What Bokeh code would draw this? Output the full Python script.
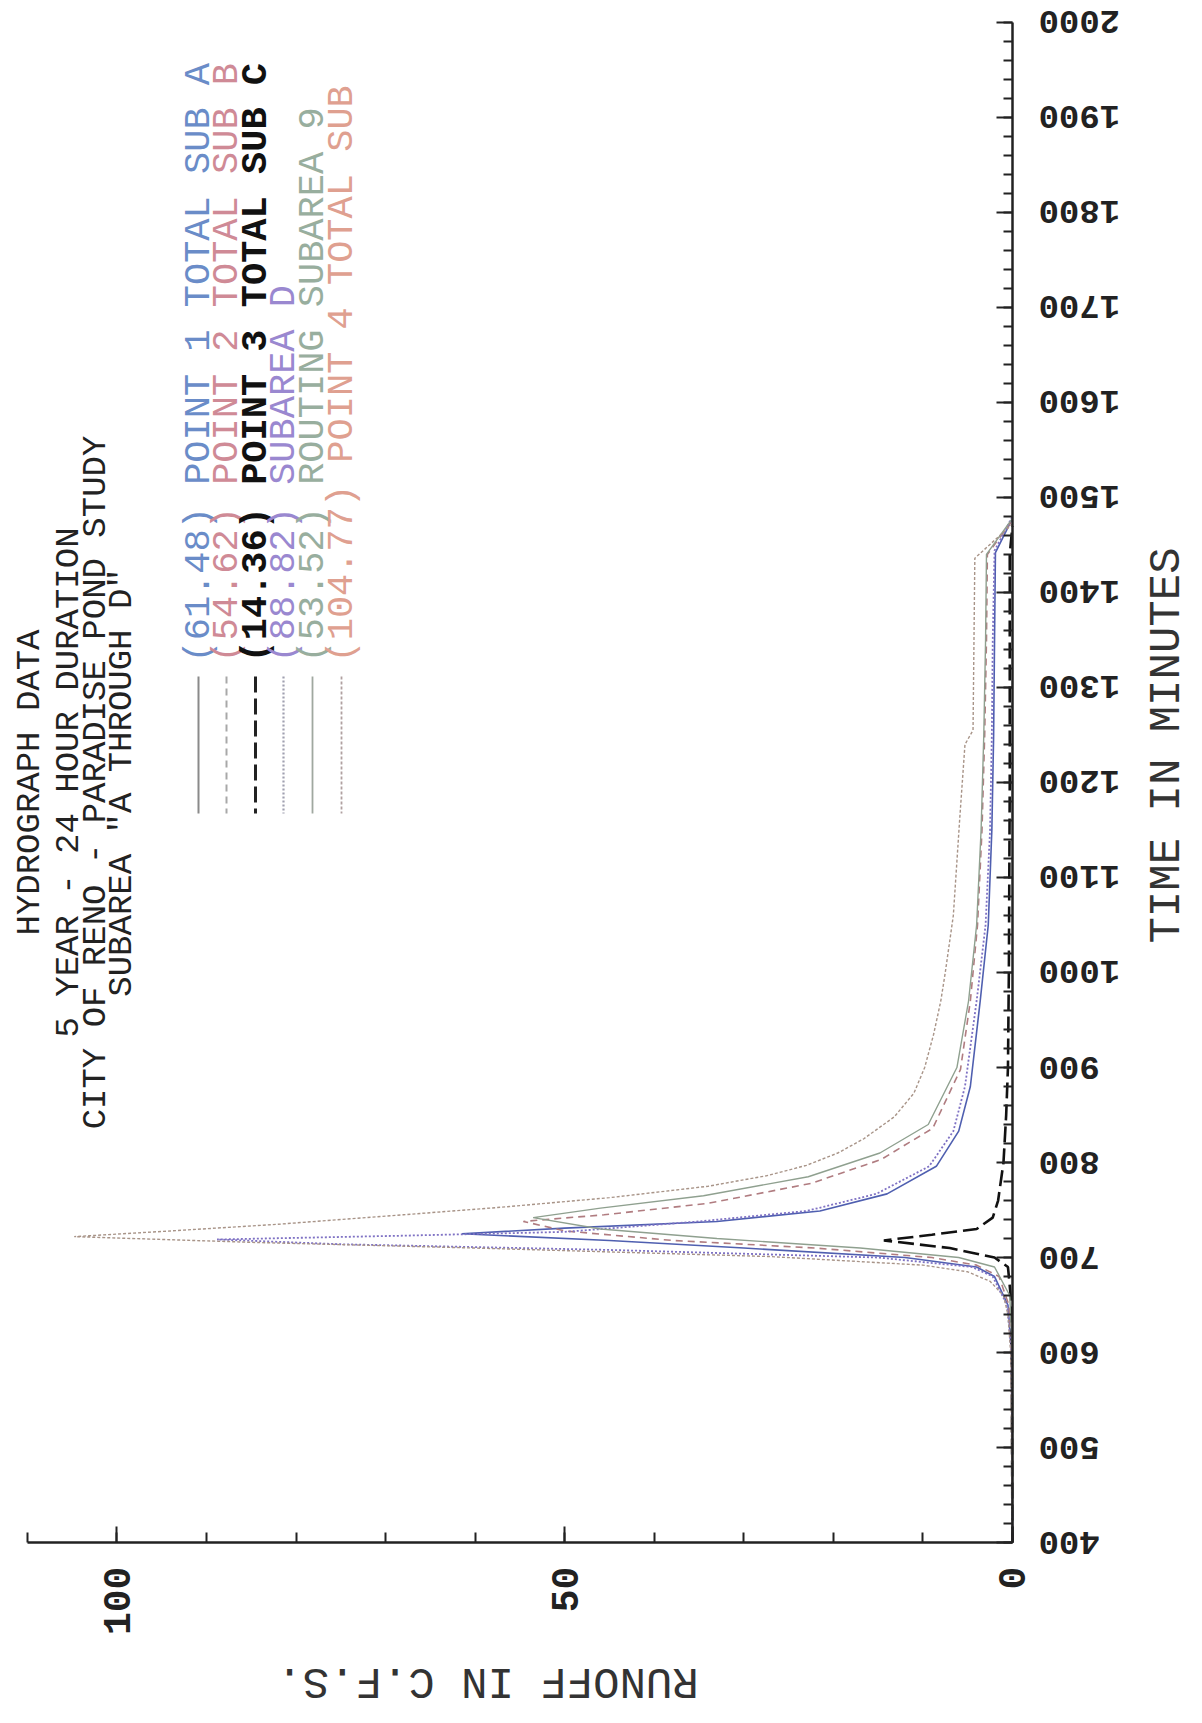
import math
from bokeh.plotting import figure
from bokeh.models import Range1d, FixedTicker
from bokeh.core.properties import value
from bokeh.embed import file_html
from bokeh.resources import INLINE

# ---------------- data ----------------
time_ticks = list(range(400, 2001, 100))
time_minor = list(range(400, 2001, 20))
time_tick_labels = [str(t) for t in time_ticks]
runoff_ticks = [0, 50, 100]
runoff_minor = list(range(0, 111, 10))

title_lines = ["HYDROGRAPH DATA", "5 YEAR - 24 HOUR DURATION",
               "CITY OF RENO - PARADISE POND STUDY", 'SUBAREA "A THROUGH D"']
x_title = "RUNOFF IN C.F.S."
y_title = "TIME IN MINUTES"

legend_labels = ["(61.48) POINT 1 TOTAL SUB A", "(54.62) POINT 2 TOTAL SUB B",
                 "(14.36) POINT 3 TOTAL SUB C", "(88.82) SUBAREA D",
                 "(53.52) ROUTING SUBAREA 9", "(104.77) POINT 4 TOTAL SUB"]

t_p1 = [400, 600, 650, 680, 690, 700, 710, 718, 725, 731, 738, 749, 767, 796, 833, 880, 970, 1050, 1150, 1250, 1350, 1442, 1478]
q_p1 = [0, 0.1, 0.5, 2, 4, 12, 30, 45, 61.48, 50, 33, 21.5, 14, 8.5, 6.0, 4.7, 3.6, 2.7, 2.3, 2.1, 2.0, 1.9, 0]

t_p2 = [400, 600, 650, 680, 692, 700, 710, 718, 728, 738, 745, 757, 778, 803, 836, 898, 970, 1050, 1150, 1250, 1350, 1440, 1476]
q_p2 = [0, 0.1, 0.4, 1.5, 4, 9, 22, 38, 50, 54.62, 45.6, 34, 22.5, 14.7, 8.9, 5.8, 4.7, 3.9, 3.4, 3.1, 2.9, 2.8, 0]

t_p3 = [400, 650, 690, 700, 710, 718, 724, 730, 742, 760, 780, 800, 850, 900, 1000, 1200, 1440, 1470]
q_p3 = [0, 0.1, 0.5, 2, 7, 14.36, 9, 4, 2.2, 1.6, 1.3, 1.0, 0.7, 0.5, 0.4, 0.3, 0.3, 0]

t_d = [400, 600, 650, 680, 690, 700, 708, 714, 719, 723, 727, 738, 749, 767, 796, 833, 880, 970, 1050, 1150, 1250, 1350, 1444, 1480]
q_d = [0, 0.1, 0.6, 2.2, 4.5, 15, 45, 75, 88.82, 68, 50, 35, 23, 15.2, 9.3, 6.6, 5.3, 4.0, 3.0, 2.5, 2.3, 2.2, 2.0, 0]

t_r9 = [400, 600, 660, 690, 700, 710, 720, 730, 742, 752, 765, 785, 810, 840, 900, 970, 1050, 1150, 1250, 1350, 1440, 1478]
q_r9 = [0, 0, 0.3, 2, 6, 17, 33, 46, 53.52, 46, 34.5, 22.8, 14.8, 9.4, 6.2, 4.9, 4.0, 3.5, 3.2, 3.0, 2.9, 0]

t_p4 = [400, 600, 640, 660, 675, 685, 692, 701, 710, 716, 722, 728, 735, 745, 753, 763, 775, 786, 797, 810, 825, 848, 873, 900, 935, 970, 1000, 1060, 1160, 1240, 1255, 1436, 1472]
q_p4 = [0, 0.2, 0.5, 1.0, 2.5, 5.0, 10, 27, 60, 85, 104.77, 94, 82, 68, 57, 45, 34, 27.5, 23, 19.5, 16.6, 13.2, 11, 9.8, 8.8, 8.0, 7.5, 6.6, 5.9, 5.3, 4.4, 4.2, 0]

series_t = [t_p1, t_p2, t_p3, t_d, t_r9, t_p4]
series_q = [q_p1, q_p2, q_p3, q_d, q_r9, q_p4]

# ---------------- styles ----------------
line_colors = ["#4f5fb0", "#b07c80", "#111111", "#7f72c4", "#8fa08f", "#a89488"]
text_colors = ["#6a8cc8", "#cf8a96", "#111111", "#9a88d0", "#98ae9e", "#dfa090"]
sample_colors = ["#8a8a8a", "#a8a8a8", "#222222", "#a0a0b0", "#a0a8a0", "#b0a0a0"]
dashes = ["solid", "7 5", "16 6", "2 2", "solid", "3 2"]
widths = [1.6, 1.6, 2.6, 1.8, 1.4, 1.4]

# canvas == frame (axes are pinned inside the frame)
W, H = 1200, 1715
X_LEFT, X_RIGHT = 113.0, -21.0
Y_MIN, Y_MAX = 218.0, 2023.0


def dx(px):
    return X_LEFT + (X_RIGHT - X_LEFT) * px / W


def dy(py):
    return Y_MAX - py * (Y_MAX - Y_MIN) / H


p = figure(width=W, height=H, x_range=Range1d(X_LEFT, X_RIGHT), y_range=Range1d(Y_MIN, Y_MAX),
           output_backend="svg", toolbar_location=None, y_axis_location="right",
           min_border_left=0, min_border_top=0, min_border_right=0, min_border_bottom=0)
p.outline_line_color = None
p.xgrid.visible = False
p.ygrid.visible = False
p.background_fill_color = "white"
p.border_fill_color = "white"

MONO = "Liberation Mono"
INK = "#222222"

# x axis (runoff), pinned at time = 400
xa = p.xaxis[0]
xa.fixed_location = 400
xa.ticker = FixedTicker(ticks=runoff_ticks, minor_ticks=runoff_minor)
xa.bounds = (0, 110)
xa.axis_line_width = 2.5
xa.axis_line_color = INK
xa.major_tick_in = 16
xa.major_tick_out = 0
xa.minor_tick_in = 10
xa.minor_tick_out = 0
xa.major_tick_line_width = 2
xa.minor_tick_line_width = 2
xa.major_tick_line_color = INK
xa.minor_tick_line_color = INK
xa.major_label_orientation = math.pi / 2
xa.major_label_text_font = MONO
xa.major_label_text_font_style = "bold"
xa.major_label_text_font_size = "38px"
xa.major_label_text_color = INK
xa.major_label_standoff = 24

# y axis (time), pinned at runoff = 0
ya = p.yaxis[0]
ya.fixed_location = 0
ya.ticker = FixedTicker(ticks=time_ticks, minor_ticks=time_minor)
ya.bounds = (400, 2000)
ya.axis_line_width = 2.5
ya.axis_line_color = INK
ya.major_tick_in = 16
ya.major_tick_out = 0
ya.minor_tick_in = 9
ya.minor_tick_out = 0
ya.major_tick_line_width = 2
ya.minor_tick_line_width = 2
ya.major_tick_line_color = INK
ya.minor_tick_line_color = INK
ya.major_label_text_color = None

# upside-down time tick labels, placed at the tick values
p.text(x=[dx(1038)] * len(time_ticks), y=time_ticks, text=time_tick_labels, angle=math.pi,
       text_align="right", text_baseline="middle", text_font=value(MONO),
       text_font_style="bold", text_font_size="34px", text_color=INK)

# hydrograph curves
for t, q, c, d, w in zip(series_t, series_q, line_colors, dashes, widths):
    p.line(x=q, y=t, line_color=c, line_dash=d, line_width=w)

# axis titles
p.text(x=[dx(1166)], y=[dy(745)], text=[y_title], angle=math.pi / 2,
       text_align="center", text_baseline="middle", text_font=value(MONO),
       text_font_size="44px", text_color="#333333")
p.text(x=[dx(487)], y=[dy(1680)], text=[x_title], angle=math.pi,
       text_align="center", text_baseline="middle", text_font=value(MONO),
       text_font_size="44px", text_color="#333333")

# title block (rotated, reading upward)
title_px = [29, 68, 95, 121]
for txt, px in zip(title_lines, title_px):
    p.text(x=[dx(px)], y=[dy(782)], text=[txt], angle=math.pi / 2,
           text_align="center", text_baseline="middle", text_font=value(MONO),
           text_font_size="34px", text_color=INK)

# legend (rotated)
leg_px = [198, 226, 255, 283, 312, 341]
styles = ["normal", "normal", "bold", "normal", "normal", "normal"]
for lab, px, c, tc, d, w, fs in zip(legend_labels, leg_px, sample_colors, text_colors, dashes, widths, styles):
    xx = dx(px)
    p.line(x=[xx, xx], y=[dy(676), dy(813)], line_color=c, line_dash=d, line_width=w + 0.4)
    p.text(x=[xx], y=[dy(662)], text=[lab], angle=math.pi / 2,
           text_align="left", text_baseline="middle", text_font=value(MONO),
           text_font_size="37px", text_color=tc, text_font_style=fs)

open("out.html", "w").write(file_html(p, INLINE))
